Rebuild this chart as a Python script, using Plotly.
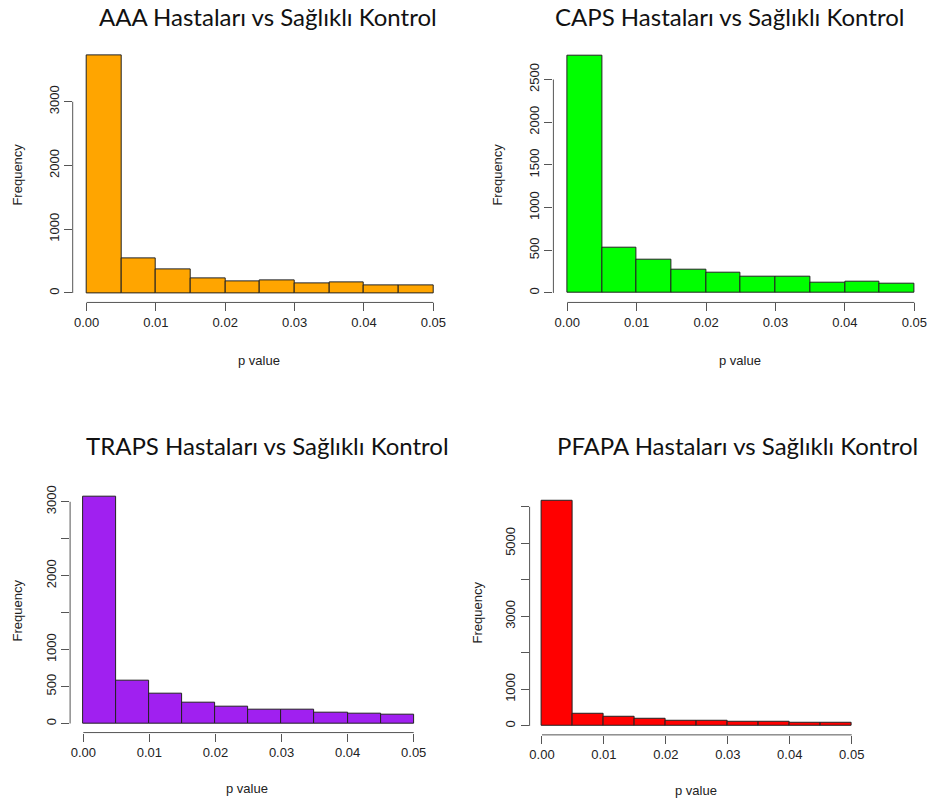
import plotly.graph_objects as go

# ---------------- data ----------------
bin_edges = [0.0, 0.005, 0.01, 0.015, 0.02, 0.025, 0.03, 0.035, 0.04, 0.045, 0.05]
x_tick_vals = [0.0, 0.01, 0.02, 0.03, 0.04, 0.05]
x_tick_text = ["0.00", "0.01", "0.02", "0.03", "0.04", "0.05"]

titles = [
    "AAA Hastaları vs Sağlıklı Kontrol",
    "CAPS Hastaları vs Sağlıklı Kontrol",
    "TRAPS Hastaları vs Sağlıklı Kontrol",
    "PFAPA Hastaları vs Sağlıklı Kontrol",
]

aaa_counts = [3720, 537, 365, 230, 183, 193, 151, 167, 125, 125]
caps_counts = [2785, 526, 389, 273, 237, 187, 187, 125, 136, 105]
traps_counts = [3068, 585, 400, 283, 229, 189, 189, 153, 135, 121]
pfapa_counts = [6166, 337, 255, 191, 128, 128, 100, 100, 73, 73]

aaa_yticks = [0, 1000, 2000, 3000]
aaa_ytext = ["0", "1000", "2000", "3000"]
caps_yticks = [0, 500, 1000, 1500, 2000, 2500]
caps_ytext = ["0", "500", "1000", "1500", "2000", "2500"]
traps_yticks = [0, 500, 1000, 1500, 2000, 2500, 3000]
traps_ytext = ["0", "500", "1000", "", "2000", "", "3000"]
pfapa_yticks = [0, 1000, 2000, 3000, 4000, 5000, 6000]
pfapa_ytext = ["0", "1000", "", "3000", "", "5000", ""]

colors = ["#FFA500", "#00FF00", "#A020F0", "#FF0000"]

# ---------------- layout helpers ----------------
W, H = 930, 802


def px(x):
    return x / W


def py(y):
    return 1 - y / H


# panel boxes in pixels: left, right, top, bottom
boxes = [
    (72.7, 447.2, 44.5, 301.2),
    (553.4, 928.2, 43.8, 301.2),
    (70.1, 426.9, 486.9, 732.4),
    (529.6, 864.1, 491.0, 734.7),
]
title_pos = [(267.5, 15), (729, 15), (267.5, 445), (737, 445)]
freq_pos = [(18, 173), (498, 173), (17, 610), (477, 612)]
pval_pos = [(259, 359), (740, 359), (247, 788), (696, 790)]

panels = [
    (aaa_counts, aaa_yticks, aaa_ytext),
    (caps_counts, caps_yticks, caps_ytext),
    (traps_counts, traps_yticks, traps_ytext),
    (pfapa_counts, pfapa_yticks, pfapa_ytext),
]

fig = go.Figure()
axis_color = "#555555"
text_color = "#222222"
tick_font = dict(family="Liberation Sans, Arial, sans-serif", size=13, color=text_color)

centers = [(bin_edges[i] + bin_edges[i + 1]) / 2 for i in range(len(bin_edges) - 1)]
widths = [bin_edges[i + 1] - bin_edges[i] for i in range(len(bin_edges) - 1)]

layout_updates = {}
shapes = []
annotations = []
for i, ((counts, yticks, ytext), box, col) in enumerate(zip(panels, boxes, colors)):
    n = "" if i == 0 else str(i + 1)
    xa, ya = "x" + n, "y" + n
    fig.add_trace(go.Bar(
        x=centers, y=counts, width=widths,
        marker=dict(color=col, line=dict(color="#222222", width=1)),
        xaxis=xa, yaxis=ya, showlegend=False, hoverinfo="x+y",
    ))
    ymax = max(counts)
    span = bin_edges[-1] - bin_edges[0]
    xr = [bin_edges[0] - 0.04 * span, bin_edges[-1] + 0.04 * span]
    yr = [-0.04 * ymax, 1.04 * ymax]
    l, r, t, b = box
    layout_updates["xaxis" + n] = dict(
        domain=[px(l), px(r)], range=xr, anchor=ya,
        tickvals=x_tick_vals, ticktext=x_tick_text,
        ticks="outside", ticklen=8, tickwidth=1, tickcolor=axis_color,
        showline=False, showgrid=False, zeroline=False,
        tickfont=tick_font, fixedrange=True,
    )
    layout_updates["yaxis" + n] = dict(
        domain=[py(b), py(t)], range=yr, anchor=xa,
        tickvals=yticks, ticktext=ytext, tickangle=-90,
        ticks="outside", ticklen=8, tickwidth=1, tickcolor=axis_color,
        showline=False, showgrid=False, zeroline=False,
        tickfont=tick_font, fixedrange=True,
    )
    # R-style axis lines spanning first to last tick
    shapes.append(dict(type="line", xref=xa, yref=ya + " domain",
                       x0=x_tick_vals[0], x1=x_tick_vals[-1], y0=0, y1=0,
                       line=dict(color=axis_color, width=1)))
    shapes.append(dict(type="line", xref=xa + " domain", yref=ya,
                       x0=0, x1=0, y0=yticks[0], y1=yticks[-1],
                       line=dict(color=axis_color, width=1)))
    tx, ty = title_pos[i]
    annotations.append(dict(text=titles[i], x=px(tx), y=py(ty), xref="paper", yref="paper",
                            showarrow=False, xanchor="center", yanchor="middle",
                            font=dict(family="Lato, Carlito, sans-serif", size=24, color="#111111")))
    fx, fy = freq_pos[i]
    annotations.append(dict(text="Frequency", x=px(fx), y=py(fy), xref="paper", yref="paper",
                            showarrow=False, textangle=-90, xanchor="center", yanchor="middle",
                            font=tick_font))
    vx, vy = pval_pos[i]
    annotations.append(dict(text="p value", x=px(vx), y=py(vy), xref="paper", yref="paper",
                            showarrow=False, xanchor="center", yanchor="middle",
                            font=tick_font))

fig.update_layout(
    width=W, height=H,
    margin=dict(l=0, r=0, t=0, b=0),
    paper_bgcolor="white", plot_bgcolor="white",
    bargap=0, shapes=shapes, annotations=annotations,
    **layout_updates,
)

fig.write_html("out.html")
